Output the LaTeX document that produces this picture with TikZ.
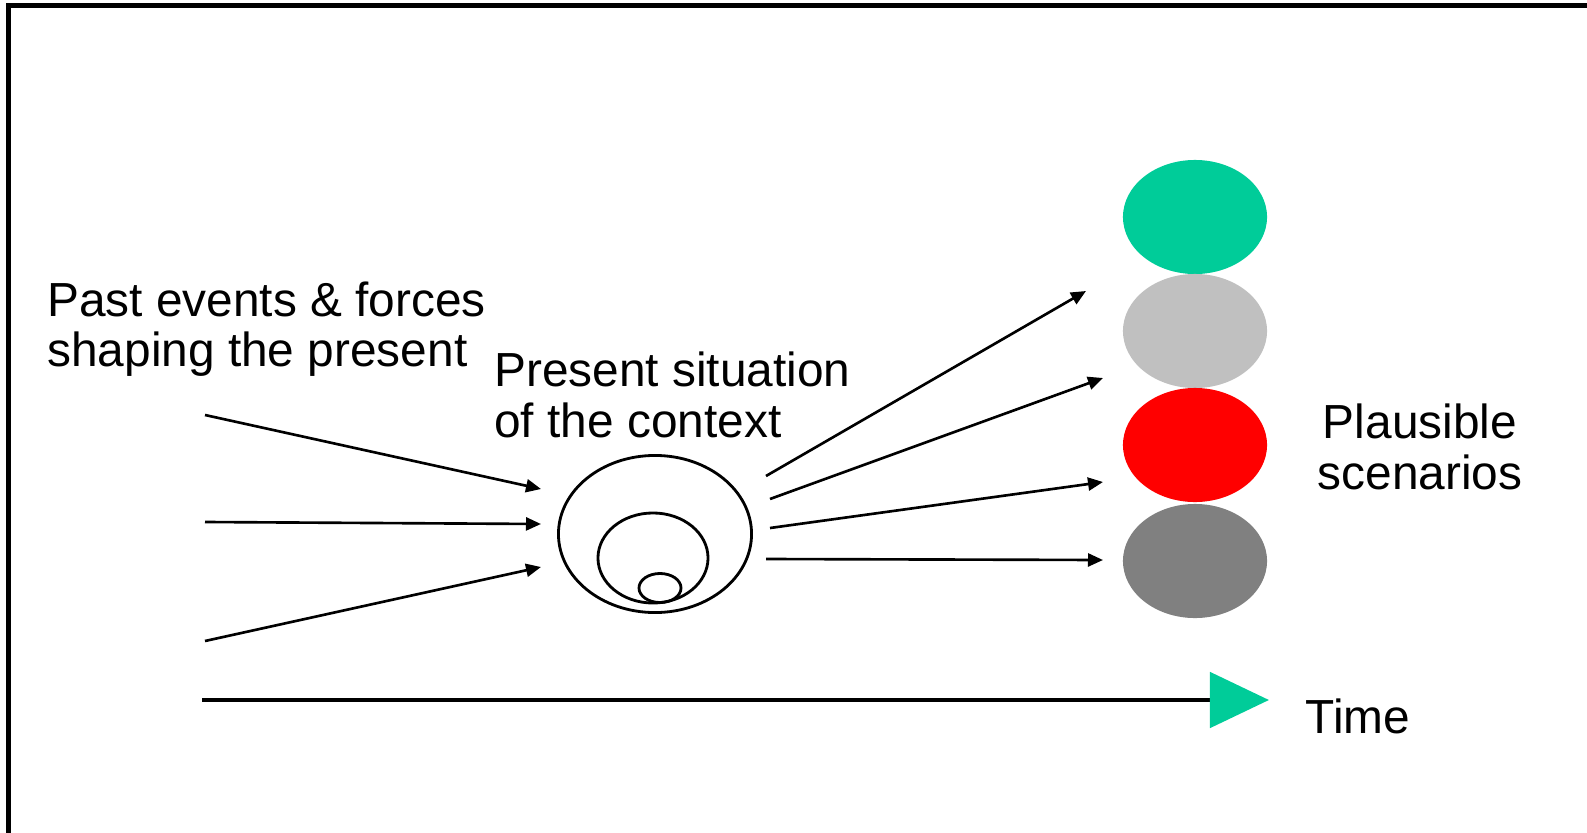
\documentclass[tikz,border=0pt]{standalone}
\usepackage{fontspec}
\setmainfont{Liberation Sans}
\usetikzlibrary{shapes.geometric,arrows.meta}
\definecolor{scgreen}{RGB}{0,204,153}
\definecolor{sclight}{RGB}{192,192,192}
\definecolor{scred}{RGB}{255,0,0}
\definecolor{scdark}{RGB}{128,128,128}
\begin{document}
\begin{tikzpicture}[x=0.01cm,y=-0.01cm,>={Triangle[length=1.5mm,width=1.3mm]},line width=0.75pt]
    \tikzstyle{scen}=[ellipse,minimum width=1.44cm,minimum height=1.14cm,inner sep=0pt]
    \tikzstyle{ring}=[ellipse,draw=black,line width=0.8pt,inner sep=0pt]
    \tikzstyle{lbl}=[font=\fontsize{13.6}{14.3}\selectfont,inner sep=0pt]
    \useasboundingbox (0,0) rectangle (1587,833);
    \draw[line width=1.2pt] (8.5,833) -- (8.5,5.5) -- (1587,5.5);

    % scenarios
    \foreach \num/\y/\col in {1/217/scgreen, 2/331/sclight, 3/445/scred, 4/561/scdark}
            \node[scen,fill=\col] (S-\num) at (1195,\y) {};

    % present situation
    \node[ring,minimum width=1.93cm,minimum height=1.57cm] (C-1) at (655,534) {};
    \node[ring,minimum width=1.10cm,minimum height=0.90cm] (C-2) at (653,558) {};
    \node[ring,minimum width=0.42cm,minimum height=0.29cm] (C-3) at (660,588) {};

    % labels
    \node[lbl,align=left,anchor=west] (past) at (46,329) {Past events \& forces\\shaping the present};
    \node[lbl,align=left,anchor=west] (now) at (493,395) {Present situation\\of the context};
    \node[lbl,align=center] (plaus) at (1420,447) {Plausible\\scenarios};
    \node[lbl] (time) at (1358,716) {Time};

    % forces in
    \foreach \num/\ya/\yb in {1/415/489, 2/522/524, 3/641/567}
        {
        \coordinate (P-\num) at (205,\ya);
        \coordinate (Q-\num) at (541,\yb);
        \draw[->] (P-\num) -- (Q-\num);
        }

    % futures out
    \foreach \num/\xa/\ya/\xb/\yb in {1/766/476/1086/291, 2/770/499/1103/378, 3/770/528/1103/482, 4/766/559/1103/560}
        {
        \coordinate (R-\num) at (\xa,\ya);
        \coordinate (F-\num) at (\xb,\yb);
        \draw[->] (R-\num) -- (F-\num);
        }

    % time axis
    \coordinate (T-0) at (202,700);
    \coordinate (T-1) at (1269,700);
    \draw[line width=1.4pt,-{Triangle[color=scgreen,length=5.9mm,width=5.5mm]}] (T-0) -- (T-1);
\end{tikzpicture}
\end{document}
